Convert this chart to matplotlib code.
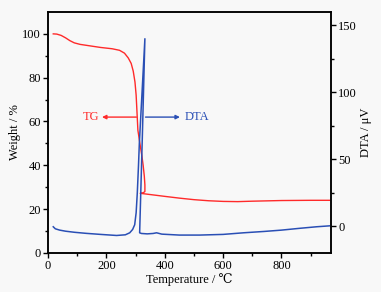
import numpy as np
import matplotlib.pyplot as plt

plt.rcParams['font.family'] = ['Liberation Serif', 'DejaVu Serif']

# TG curve (weight %)
tg_t = [18, 30, 45, 60, 75, 90, 110, 140, 180, 220, 245, 262, 275, 285, 292, 298,
        302, 305, 308, 316, 322, 326, 330, 332, 332, 326, 316,
        340, 400, 450, 500, 550, 600, 650, 700, 800, 900, 965]
tg_w = [100, 99.9, 99.3, 98.2, 96.9, 95.9, 95.2, 94.6, 93.8, 93.2, 92.5, 91.2, 89, 86.5, 83, 78,
        72, 64, 56, 49, 44, 40, 35, 31, 28, 27.4, 27.2,
        26.8, 25.8, 25, 24.3, 23.8, 23.5, 23.4, 23.6, 23.9, 24, 24]

# DTA curve (uV)
dta_t = [18, 25, 40, 60, 90, 130, 180, 235, 265, 280, 290, 297, 302, 306, 310,
         313, 332, 323, 314, 320, 340, 360, 372, 390, 450, 520, 600, 670, 740,
         800, 860, 920, 965]
dta_v = [-0.5, -2, -3, -3.8, -4.6, -5.4, -6.2, -7, -6.5, -5, -2.5, 1, 10, 25, 45,
         62, 140, 65, -5, -5.5, -5.8, -5.5, -5, -6, -6.7, -6.7, -6.2, -5, -4,
         -3, -1.7, -0.5, 0.2]

bg = '#f8f8f8'
fig = plt.figure(figsize=(3.81, 2.92), dpi=100, facecolor=bg)
ax = fig.add_axes([0.126, 0.134, 0.743, 0.825], facecolor=bg)
ax2 = ax.twinx()

ax.plot(tg_t, tg_w, color='#ff2a2a', lw=1.0)
ax2.plot(dta_t, dta_v, color='#2a4fb5', lw=1.1)

ax.set_xlim(0, 970)
ax.set_ylim(0, 110)

ax.set_xticks([0, 200, 400, 600, 800])
ax.set_xticks(np.arange(100, 1000, 200), minor=True)
ax.set_yticks([0, 20, 40, 60, 80, 100])
ax.set_yticks(np.arange(10, 110, 20), minor=True)
ax2.set_yticks([0, 50, 100, 150])
ax2.set_yticks([-25, 25, 75, 125], minor=True)
ax2.set_ylim(-20, 160)

for a in (ax, ax2):
    a.tick_params(which='both', direction='out', labelsize=9, width=1.0, pad=1.5)
    a.tick_params(which='major', length=3.5)
    a.tick_params(which='minor', length=2.5)
    for s in a.spines.values():
        s.set_linewidth(1.1)
ax.tick_params(top=False)

ax.set_xlabel('Temperature / ℃', fontsize=9, labelpad=1)
ax.set_ylabel('Weight / %', fontsize=9, labelpad=1)
ax2.set_ylabel('DTA / μV', fontsize=9, labelpad=2)

ax.annotate('', xy=(185, 62), xytext=(303, 62),
            arrowprops=dict(arrowstyle='-|>', color='#ff2a2a', lw=1.0,
                            mutation_scale=6, shrinkA=0, shrinkB=0))
ax.text(147, 62, 'TG', color='#ff2a2a', fontsize=9, ha='center', va='center')
ax.annotate('', xy=(452, 62), xytext=(334, 62),
            arrowprops=dict(arrowstyle='-|>', color='#2a4fb5', lw=1.0,
                            mutation_scale=6, shrinkA=0, shrinkB=0))
ax.text(468, 62, 'DTA', color='#2a4fb5', fontsize=9, ha='left', va='center')

fig.savefig('out.png', dpi=100, facecolor=bg)
